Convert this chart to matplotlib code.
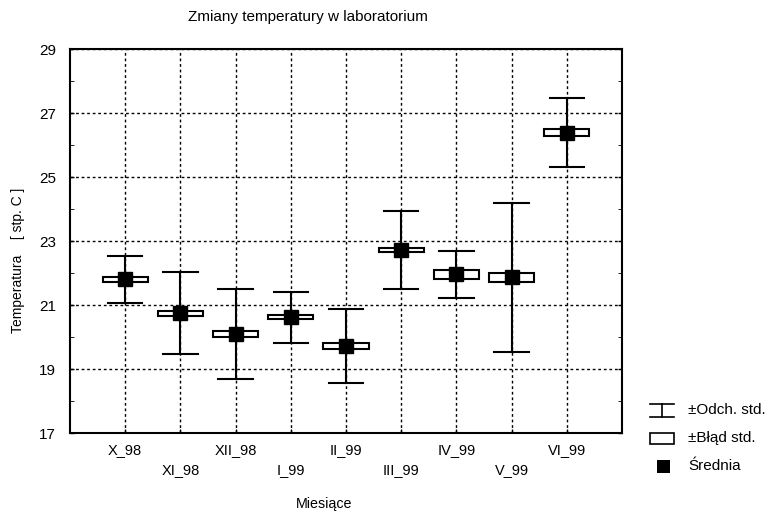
import numpy as np
import matplotlib.pyplot as plt
from matplotlib.lines import Line2D
from matplotlib.patches import Rectangle

# dane
miesiace = ["X_98", "XI_98", "XII_98", "I_99", "II_99", "III_99", "IV_99", "V_99", "VI_99"]
srednia = [21.80, 20.74, 20.09, 20.62, 19.72, 22.71, 21.96, 21.86, 26.39]
blad_std = [0.09, 0.07, 0.10, 0.07, 0.10, 0.06, 0.14, 0.15, 0.10]
odch_std = [0.73, 1.28, 1.40, 0.80, 1.17, 1.22, 0.73, 2.34, 1.08]

plt.rcParams['font.family'] = ['Liberation Sans', 'DejaVu Sans']

fig = plt.figure(figsize=(7.68, 5.11), dpi=100)
W, H = 768, 511
ax = fig.add_axes([70 / W, 1 - 433 / H, (622 - 70) / W, (433 - 49) / H])

x = np.arange(1, len(miesiace) + 1)
szer_box = 0.82
szer_cap = 0.62

for xi, m, se, sd in zip(x, srednia, blad_std, odch_std):
    # wasy: +/- odchylenie standardowe
    ax.plot([xi, xi], [m - sd, m + sd], color='black', lw=1.5, zorder=3)
    for yy in (m - sd, m + sd):
        ax.plot([xi - szer_cap / 2, xi + szer_cap / 2], [yy, yy], color='black', lw=1.5, zorder=3)
    # pudelko: +/- blad standardowy
    ax.add_patch(Rectangle((xi - szer_box / 2, m - se), szer_box, 2 * se,
                           facecolor='white', edgecolor='black', lw=1.5, zorder=4))
    # srednia
    ax.plot(xi, m, marker='s', color='black', markersize=10.5, zorder=5)

ax.set_xlim(0, len(miesiace) + 1)
ax.set_ylim(17, 29)

ax.set_xticks(x)
ax.set_xticklabels([lab if i % 2 == 0 else "\n" + lab for i, lab in enumerate(miesiace)],
                   fontsize=10.5, linespacing=1.55)
ax.set_yticks(np.arange(17, 30, 2))
ax.set_yticks(np.arange(18, 29, 2), minor=True)
ax.tick_params(axis='both', direction='in', length=3, width=1)
ax.tick_params(axis='y', which='both', right=True, direction='in', length=3, labelsize=11, pad=10)
ax.tick_params(axis='x', pad=7)

ax.grid(True, which='major', color='black', linestyle=(0, (2, 2)), lw=1)
for s in ax.spines.values():
    s.set_linewidth(1.5)

fig.text(308 / W, 1 - 17 / H, "Zmiany temperatury w laboratorium", ha='center', va='center', fontsize=11)
fig.text(324 / W, 1 - 504 / H, "Miesiące", ha='center', va='center', fontsize=10.3)
fig.text(18 / W, 1 - 260 / H, "Temperatura    [ stp. C ]", rotation=90,
         ha='center', va='center', fontsize=10)

# legenda rysowana recznie
lx0, lx1 = 650 / W, 674 / W
yl = 1 - 410 / H
fig.add_artist(Line2D([lx0, lx1], [yl + 6.5 / H, yl + 6.5 / H], color='black', lw=1.2))
fig.add_artist(Line2D([lx0, lx1], [yl - 6.5 / H, yl - 6.5 / H], color='black', lw=1.2))
fig.add_artist(Line2D([(lx0 + lx1) / 2] * 2, [yl - 6.5 / H, yl + 6.5 / H], color='black', lw=1.2))
fig.text(688 / W, yl, "±Odch. std.", ha='left', va='center', fontsize=11)

yb = 1 - 438 / H
fig.add_artist(Rectangle((650 / W, yb - 5.5 / H), 24 / W, 11 / H, transform=fig.transFigure,
                         facecolor='white', edgecolor='black', lw=1.2))
fig.text(688 / W, yb, "±Błąd std.", ha='left', va='center', fontsize=11)

ys = 1 - 466 / H
fig.add_artist(Rectangle((657 / W, ys - 6.5 / H), 13 / W, 13 / H, transform=fig.transFigure,
                         facecolor='black', edgecolor='black', lw=0))
fig.text(688 / W, ys, "Średnia", ha='left', va='center', fontsize=11)

fig.savefig("out.png", dpi=100)
